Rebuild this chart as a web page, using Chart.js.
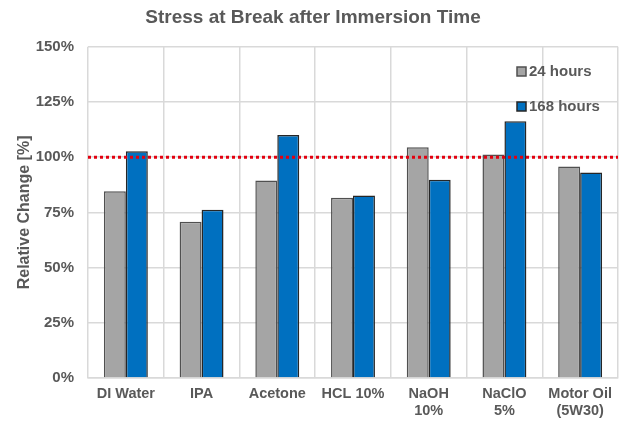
<!DOCTYPE html>
<html>
<head>
<meta charset="utf-8">
<script src="https://cdn.jsdelivr.net/npm/chart.js@4"></script>
<style>
  html, body { margin: 0; padding: 0; background: #fff; }
  #wrap { width: 627px; height: 423px; }
</style>
</head>
<body>
<div id="wrap"><canvas id="chart" width="627" height="423"></canvas></div>
<script>
// chart data
const categories = ['DI Water', 'IPA', 'Acetone', 'HCL 10%', ['NaOH', '10%'], ['NaClO', '5%'], ['Motor Oil', '(5W30)']];
const hours24 = [84.6, 70.8, 89.5, 81.6, 104.5, 101.2, 95.8];
const hours168 = [102.7, 76.2, 110.0, 82.7, 89.8, 116.3, 93.1];
const refLine = 100;

const textGrey = '#595959';
const fontFam = '"Liberation Sans", Arial, sans-serif';

// red dotted reference line + legend inside plot area
const extras = {
    id: 'extras',
    afterDatasetsDraw(chart) {
        const { ctx, chartArea, scales } = chart;
        const y = scales.y.getPixelForValue(refLine);
        ctx.save();
        ctx.strokeStyle = '#e3000f';
        ctx.lineWidth = 3;
        ctx.setLineDash([3, 3]);
        ctx.beginPath();
        ctx.moveTo(chartArea.left, y);
        ctx.lineTo(chartArea.right, y);
        ctx.stroke();
        ctx.restore();
    },
    afterDraw(chart) {
        const { ctx } = chart;
        ctx.save();
        ctx.font = 'bold 15px ' + fontFam;
        ctx.textBaseline = 'middle';
        chart.data.datasets.forEach((ds, i) => {
            const x = 517, y = 72 + i * 35;
            ctx.fillStyle = ds.backgroundColor;
            ctx.strokeStyle = ds.borderColor;
            ctx.lineWidth = 1.5;
            ctx.fillRect(x, y - 5, 9, 9);
            ctx.strokeRect(x, y - 5, 9, 9);
            ctx.fillStyle = textGrey;
            ctx.fillText(ds.label, x + 12, y);
        });
        ctx.restore();
    }
};

new Chart(document.getElementById('chart'), {
    type: 'bar',
    data: {
        labels: categories,
        datasets: [
            {
                label: '24 hours',
                data: hours24,
                backgroundColor: '#a5a5a5',
                borderColor: '#505050',
                borderWidth: 1.5,
                categoryPercentage: 0.58,
                barPercentage: 1.0
            },
            {
                label: '168 hours',
                data: hours168,
                backgroundColor: '#0070c0',
                borderColor: '#262626',
                borderWidth: 1.5,
                categoryPercentage: 0.58,
                barPercentage: 1.0
            }
        ]
    },
    options: {
        responsive: false,
        animation: false,
        layout: { padding: { left: 8, right: 9, top: 2, bottom: 0 } },
        plugins: {
            legend: { display: false },
            tooltip: { enabled: false },
            title: {
                display: true,
                text: 'Stress at Break after Immersion Time',
                color: textGrey,
                font: { family: fontFam, size: 19, weight: 'bold' },
                padding: { top: 4, bottom: 18 }
            }
        },
        scales: {
            x: {
                grid: { color: '#d9d9d9', lineWidth: 1.5, drawTicks: false },
                border: { color: '#d9d9d9', width: 1.5 },
                ticks: {
                    color: textGrey,
                    font: { family: fontFam, size: 14.5, weight: 'bold', lineHeight: 1.15 },
                    padding: 8,
                    maxRotation: 0,
                    autoSkip: false
                },
                afterFit: s => { s.height = 45; }
            },
            y: {
                min: 0,
                max: 150,
                grid: { color: '#d9d9d9', lineWidth: 1.5, drawTicks: false },
                border: { display: false },
                ticks: {
                    stepSize: 25,
                    color: textGrey,
                    font: { family: fontFam, size: 15, weight: 'bold' },
                    padding: 14,
                    callback: v => v + '%'
                },
                title: {
                    display: true,
                    text: 'Relative Change [%]',
                    color: textGrey,
                    font: { family: fontFam, size: 16, weight: 'bold' },
                    padding: { top: 7, bottom: 0 }
                },
                afterFit: s => { s.width = 80; }
            }
        }
    },
    plugins: [extras]
});
</script>
</body>
</html>
